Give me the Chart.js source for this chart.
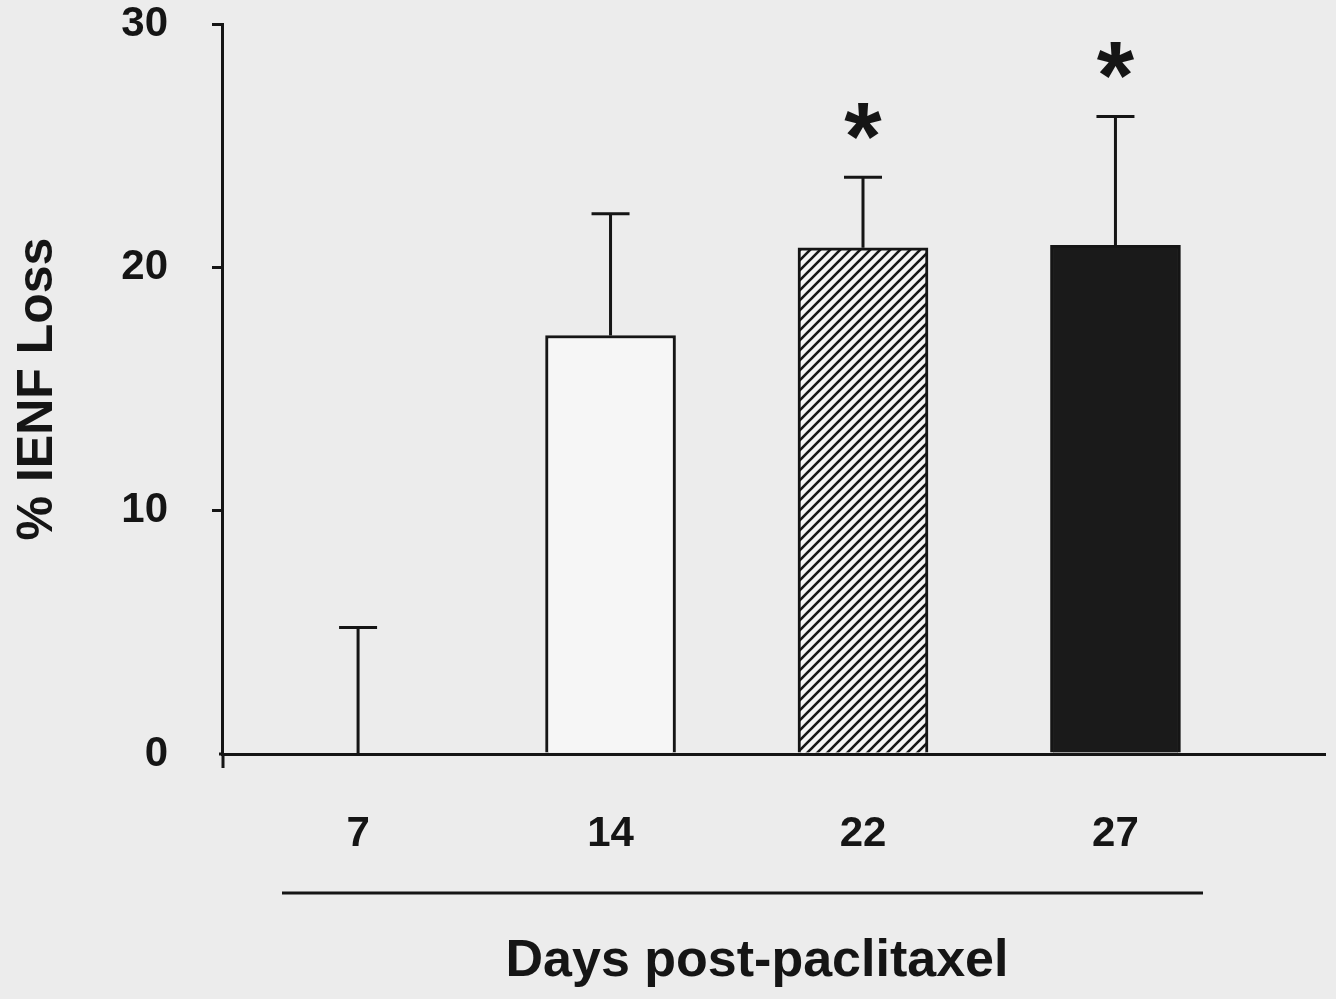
<!DOCTYPE html>
<html>
<head>
<meta charset="utf-8">
<script src="https://cdn.jsdelivr.net/npm/chart.js@4.4.1/dist/chart.umd.min.js"></script>
<style>
  html, body { margin: 0; padding: 0; background: #ececec; }
  #wrap { width: 1336px; height: 999px; }
</style>
</head>
<body>
<div id="wrap"><canvas id="c" width="1336" height="999"></canvas></div>
<script>
// ---- data ----
const days = ["7", "14", "22", "27"];
const positions = [1, 2, 3, 4];
const meanLoss = [0, 17.2, 20.8, 20.9];
const errUpper = [5.2, 5.0, 2.9, 5.3];
const significance = ["", "", "*", "*"];
const yTicks = [0, 10, 20, 30];
const xTitle = 'Days post-paclitaxel';
const yTitle = '% IENF Loss';

const FONT = "'Liberation Sans', Arial, sans-serif";
const INK = '#151515';

// hatch pattern for day 22
function makeHatch() {
  const s = 10;
  const c = document.createElement('canvas');
  c.width = s; c.height = s;
  const g = c.getContext('2d');
  g.fillStyle = '#f4f4f4';
  g.fillRect(0, 0, s, s);
  g.strokeStyle = INK;
  g.lineWidth = 2.6;
  g.beginPath();
  g.moveTo(-2, s + 2); g.lineTo(s + 2, -2);
  g.moveTo(-2, 2); g.lineTo(2, -2);
  g.moveTo(s - 2, s + 2); g.lineTo(s + 2, s - 2);
  g.stroke();
  return g.createPattern(c, 'repeat');
}
const hatch = makeHatch();

const bgPlugin = {
  id: 'bg',
  beforeDraw(chart) {
    const ctx = chart.ctx;
    ctx.save();
    ctx.fillStyle = '#ececec';
    ctx.fillRect(0, 0, chart.width, chart.height);
    ctx.restore();
  }
};

const extrasPlugin = {
  id: 'extras',
  afterDatasetsDraw(chart) {
    const ctx = chart.ctx;
    const xs = chart.scales.x, ys = chart.scales.y;
    ctx.save();
    ctx.strokeStyle = INK;
    ctx.fillStyle = INK;
    ctx.lineWidth = 3;
    positions.forEach((p, i) => {
      const x = xs.getPixelForValue(p);
      const yTop = ys.getPixelForValue(meanLoss[i]);
      const yErr = ys.getPixelForValue(meanLoss[i] + errUpper[i]);
      ctx.beginPath();
      ctx.moveTo(x, yTop);
      ctx.lineTo(x, yErr);
      ctx.moveTo(x - 19, yErr);
      ctx.lineTo(x + 19, yErr);
      ctx.stroke();
      if (significance[i]) {
        ctx.font = `bold 96px ${FONT}`;
        const m = ctx.measureText(significance[i]);
        const h = m.actualBoundingBoxAscent + m.actualBoundingBoxDescent;
        const cy = yErr - 56;
        ctx.textAlign = 'center';
        ctx.textBaseline = 'alphabetic';
        ctx.fillText(significance[i], x, cy + h / 2 - m.actualBoundingBoxDescent);
      }
    });
    // y-axis extension below the x axis
    const a = chart.chartArea;
    ctx.beginPath();
    ctx.moveTo(a.left + 1, a.bottom);
    ctx.lineTo(a.left + 1, a.bottom + 14);
    ctx.stroke();
    // x-axis left stub
    ctx.beginPath();
    ctx.moveTo(a.left - 3, a.bottom);
    ctx.lineTo(a.left, a.bottom);
    ctx.stroke();
    // line under the day labels
    ctx.beginPath();
    ctx.moveTo(282, 893);
    ctx.lineTo(1203, 893);
    ctx.stroke();
    // x-axis title
    ctx.font = `bold 52px ${FONT}`;
    ctx.textAlign = 'center';
    ctx.textBaseline = 'middle';
    ctx.fillText(xTitle, 757, 962);
    ctx.restore();
  }
};

new Chart(document.getElementById('c'), {
  type: 'bar',
  data: {
    datasets: [{
      data: positions.map((p, i) => ({ x: p, y: meanLoss[i] })),
      backgroundColor: ['#f6f6f6', '#f6f6f6', hatch, '#1a1a1a'],
      borderColor: INK,
      borderWidth: 3,
      borderSkipped: 'bottom',
      barThickness: 130
    }]
  },
  plugins: [bgPlugin, extrasPlugin],
  options: {
    responsive: false,
    animation: false,
    devicePixelRatio: 1,
    layout: { padding: { top: 24, right: 11, left: 0, bottom: 0 } },
    plugins: { legend: { display: false }, tooltip: { enabled: false } },
    scales: {
      x: {
        type: 'linear',
        offset: false,
        min: 0.461,
        max: 4.83,
        afterBuildTicks(scale) { scale.ticks = positions.map(v => ({ value: v })); },
        afterFit(scale) { scale.height = 245; scale.paddingLeft = 0; scale.paddingRight = 0; },
        grid: { display: false, drawTicks: false },
        border: { display: true, color: INK, width: 3 },
        ticks: {
          padding: 55,
          color: INK,
          maxRotation: 0,
          font: { family: FONT, size: 42, weight: 'bold' },
          callback: (v) => days[positions.indexOf(v)]
        },
        title: { display: false }
      },
      y: {
        min: 0,
        max: 30,
        afterBuildTicks(scale) { scale.ticks = yTicks.map(v => ({ value: v })); },
        afterFit(scale) { scale.width = 222; scale.paddingTop = 0; scale.paddingBottom = 0; },
        grid: {
          drawOnChartArea: false,
          drawTicks: true,
          tickLength: 10,
          lineWidth: 3,
          color: (ctx) => (ctx.tick && ctx.tick.value === 0) ? 'rgba(0,0,0,0)' : INK
        },
        border: { display: true, color: INK, width: 3 },
        ticks: {
          padding: 44,
          color: INK,
          font: { family: FONT, size: 42, weight: 'bold' }
        },
        title: {
          display: true,
          text: yTitle,
          color: INK,
          font: { family: FONT, size: 50, weight: 'bold' },
          padding: { top: 8, bottom: 0 }
        }
      }
    }
  }
});
</script>
</body>
</html>
